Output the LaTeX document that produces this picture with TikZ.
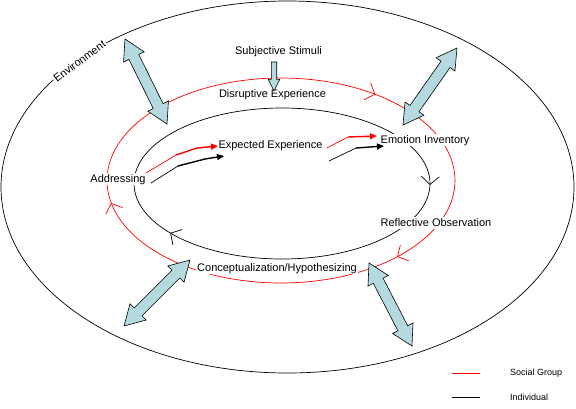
\documentclass[tikz,border=0pt]{standalone}
\usepackage{fontspec}
\setmainfont{Liberation Sans}
\usetikzlibrary{calc,arrows.meta,decorations.markings}
\definecolor{paleblue}{RGB}{180,218,224}
\definecolor{groupred}{RGB}{255,0,0}

\newcommand{\tipLen}{20pt}
\newcommand{\tipWd}{11.5pt}
\newcommand{\shaftWd}{5.5pt}
% two-headed block arrow between two named points
\newcommand{\twoway}[2]{%
  \draw[blockarrow] (#1)
    -- ($(#1)!\tipLen!(#2)!\tipWd!90:(#2)$)
    -- ($(#1)!\tipLen!(#2)!\shaftWd!90:(#2)$)
    -- ($(#2)!\tipLen!(#1)!\shaftWd!-90:(#1)$)
    -- ($(#2)!\tipLen!(#1)!\tipWd!-90:(#1)$)
    -- (#2)
    -- ($(#2)!\tipLen!(#1)!\tipWd!90:(#1)$)
    -- ($(#2)!\tipLen!(#1)!\shaftWd!90:(#1)$)
    -- ($(#1)!\tipLen!(#2)!\shaftWd!-90:(#2)$)
    -- ($(#1)!\tipLen!(#2)!\tipWd!-90:(#2)$)
    -- cycle;}

\tikzset{
  barbtip/.tip={Straight Barb[length=8pt,width=18pt]},
  stage/.style={fill=white,inner sep=1pt,text height=8pt,text depth=2pt,font=\fontsize{11}{13}\selectfont},
  legend text/.style={anchor=west,inner sep=0pt,font=\fontsize{9}{11}\selectfont},
  ring/.style={line width=0.7pt},
  flow/.style={line width=1.4pt,-{Triangle[length=7pt,width=6pt]}},
  blockarrow/.style={draw=black,fill=paleblue,line width=0.6pt,line join=miter},
}
\pgfkeys{/pgf/decoration/.cd,
  barb/.style={mark=at position #1 with {\arrow[line width=0.7pt]{barbtip}}}}

\begin{document}
\begin{tikzpicture}[x=1pt,y=-1pt]
    \useasboundingbox (0,0) rectangle (576,408);

    % Environment
    \draw[ring] (287.5,187) ellipse [x radius=286.5, y radius=186];
    \node[stage,rotate=37] (env) at (80,62) {Environment};

    % Social group cycle
    \draw[ring,groupred,postaction={decorate},
          decoration={markings,barb=0.114,barb=0.474,barb=0.859}]
        (281,180.5) ellipse [x radius=174, y radius=102.5];

    % Individual cycle
    \draw[ring,postaction={decorate},
          decoration={markings,barb=0.002,barb=0.411}]
        (282,183.5) ellipse [x radius=148, y radius=75.5];

    % Stages
    \node[stage] (subj) at (278.5,51) {Subjective Stimuli};
    \node[stage] (disrupt) at (272.5,94) {Disruptive Experience};
    \node[stage] (expect) at (270.5,145) {Expected Experience};
    \node[stage] (emotion) at (425,140) {Emotion Inventory};
    \node[stage] (address) at (118,179) {Addressing};
    \node[stage] (reflect) at (436,223) {Reflective Observation};
    \node[stage] (concept) at (277,268) {Conceptualization/Hypothesizing};

    % Addressing -> Expected Experience
    \coordinate (redL0) at (146,173);
    \coordinate (redL1) at (176,155);
    \coordinate (redL2) at (218,146);
    \draw[ring,groupred] (redL0) -- (redL1);
    \draw[flow,groupred] (redL1) -- (197,148) -- (redL2);
    \coordinate (blkL0) at (151,183);
    \coordinate (blkL1) at (178,166);
    \coordinate (blkL2) at (224,156);
    \draw[ring] (blkL0) -- (blkL1);
    \draw[flow] (blkL1) -- (205,159) -- (blkL2);

    % Expected Experience -> Emotion Inventory
    \coordinate (redR0) at (327,148);
    \coordinate (redR1) at (348,137);
    \coordinate (redR2) at (377,136);
    \draw[ring,groupred] (redR0) -- (redR1);
    \draw[flow,groupred] (redR1) -- (redR2);
    \coordinate (blkR0) at (329,161);
    \coordinate (blkR1) at (356,148);
    \coordinate (blkR2) at (384,146);
    \draw[ring] (blkR0) -- (blkR1);
    \draw[flow] (blkR1) -- (blkR2);

    % Exchange with the environment
    \coordinate (envNW) at (125,39);  \coordinate (grpNW) at (167,124);
    \coordinate (envNE) at (457,48);  \coordinate (grpNE) at (403,125);
    \coordinate (envSW) at (124,326); \coordinate (grpSW) at (190,260);
    \coordinate (envSE) at (412,346); \coordinate (grpSE) at (369,263);
    \twoway{envNW}{grpNW}
    \twoway{envNE}{grpNE}
    \twoway{envSW}{grpSW}
    \twoway{envSE}{grpSE}

    % Stimuli arrow
    \coordinate (stimTop) at (274,62);
    \coordinate (stimTip) at (274,91);
    \draw[blockarrow] ($(stimTop)!2.7pt!90:(stimTip)$)
        -- ($(stimTip)!11.7pt!(stimTop)!2.7pt!-90:(stimTop)$)
        -- ($(stimTip)!11.7pt!(stimTop)!5.8pt!-90:(stimTop)$)
        -- (stimTip)
        -- ($(stimTip)!11.7pt!(stimTop)!5.8pt!90:(stimTop)$)
        -- ($(stimTip)!11.7pt!(stimTop)!2.7pt!90:(stimTop)$)
        -- ($(stimTop)!2.7pt!-90:(stimTip)$) -- cycle;

    % Legend
    \coordinate (sgA) at (452,373); \coordinate (sgB) at (480,373);
    \coordinate (inA) at (452,397); \coordinate (inB) at (480,397);
    \draw[ring,groupred] (sgA) -- (sgB);
    \draw[ring] (inA) -- (inB);
    \node[legend text] (social) at (510,373) {Social Group};
    \node[legend text] (indiv) at (510,397) {Individual};
\end{tikzpicture}
\end{document}
